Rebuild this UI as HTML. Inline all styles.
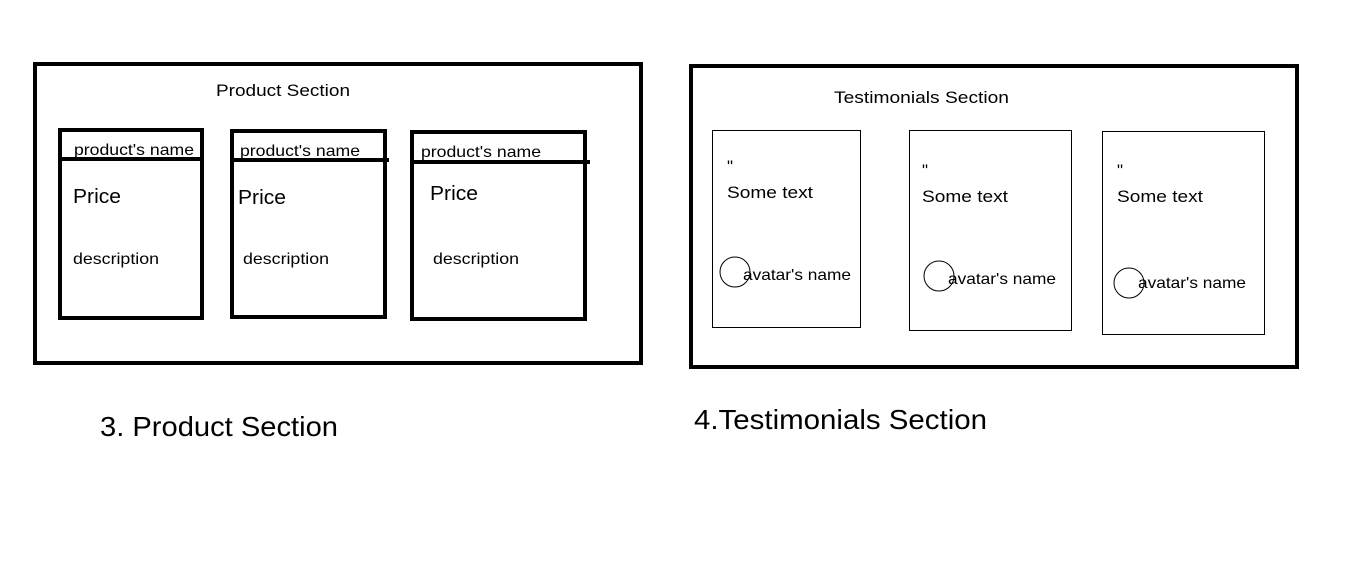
<!DOCTYPE html>
<html><head><meta charset="utf-8"><style>
html,body{margin:0;padding:0;background:#fff;}
svg{display:block;}
text{font-family:"Liberation Sans",sans-serif;fill:#000;}
</style></head><body>
<svg width="1360" height="565" viewBox="0 0 1360 565" xmlns="http://www.w3.org/2000/svg">
<rect x="0" y="0" width="1360" height="565" fill="#fff"/>
<g fill="none" stroke="#000" stroke-width="4">
<rect x="35" y="64" width="606" height="299"/>
<rect x="60" y="130" width="142" height="188"/>
<line x1="60" y1="159" x2="202" y2="159"/>
<rect x="232" y="131" width="153" height="186"/>
<line x1="232" y1="160" x2="389" y2="160"/>
<rect x="412" y="132" width="173" height="187"/>
<line x1="412" y1="162" x2="590" y2="162"/>
<rect x="691" y="66" width="606" height="301"/>
</g>
<g fill="none" stroke="#000" stroke-width="1">
<rect x="712.5" y="130.5" width="148" height="197"/>
<rect x="909.5" y="130.5" width="162" height="200"/>
<rect x="1102.5" y="131.5" width="162" height="203"/>
<circle cx="735" cy="272" r="15"/>
<circle cx="939" cy="276" r="15"/>
<circle cx="1129" cy="283" r="15"/>
</g>
<g lengthAdjust="spacingAndGlyphs">
<text x="216" y="96" font-size="17" textLength="134" lengthAdjust="spacingAndGlyphs">Product Section</text>
<text x="74" y="155" font-size="16" textLength="120" lengthAdjust="spacingAndGlyphs">product's name</text>
<text x="240" y="156" font-size="16" textLength="120" lengthAdjust="spacingAndGlyphs">product's name</text>
<text x="421" y="157" font-size="16" textLength="120" lengthAdjust="spacingAndGlyphs">product's name</text>
<text x="73" y="203" font-size="20" textLength="48" lengthAdjust="spacingAndGlyphs">Price</text>
<text x="238" y="204" font-size="20" textLength="48" lengthAdjust="spacingAndGlyphs">Price</text>
<text x="430" y="200" font-size="20" textLength="48" lengthAdjust="spacingAndGlyphs">Price</text>
<text x="73" y="264" font-size="16" textLength="86" lengthAdjust="spacingAndGlyphs">description</text>
<text x="243" y="264" font-size="16" textLength="86" lengthAdjust="spacingAndGlyphs">description</text>
<text x="433" y="264" font-size="16" textLength="86" lengthAdjust="spacingAndGlyphs">description</text>
<text x="834" y="103" font-size="17" textLength="175" lengthAdjust="spacingAndGlyphs">Testimonials Section</text>
<text x="727" y="172" font-size="17">"</text>
<text x="922" y="176" font-size="17">"</text>
<text x="1117" y="176" font-size="17">"</text>
<text x="727" y="198" font-size="17" textLength="86" lengthAdjust="spacingAndGlyphs">Some text</text>
<text x="922" y="202" font-size="17" textLength="86" lengthAdjust="spacingAndGlyphs">Some text</text>
<text x="1117" y="202" font-size="17" textLength="86" lengthAdjust="spacingAndGlyphs">Some text</text>
<text x="743" y="280" font-size="16" textLength="108" lengthAdjust="spacingAndGlyphs">avatar's name</text>
<text x="948" y="284" font-size="16" textLength="108" lengthAdjust="spacingAndGlyphs">avatar's name</text>
<text x="1138" y="288" font-size="16" textLength="108" lengthAdjust="spacingAndGlyphs">avatar's name</text>
<text x="100" y="436" font-size="28" textLength="238" lengthAdjust="spacingAndGlyphs">3. Product Section</text>
<text x="694" y="429" font-size="28" textLength="293" lengthAdjust="spacingAndGlyphs">4.Testimonials Section</text>
</g>
</svg>
</body></html>
